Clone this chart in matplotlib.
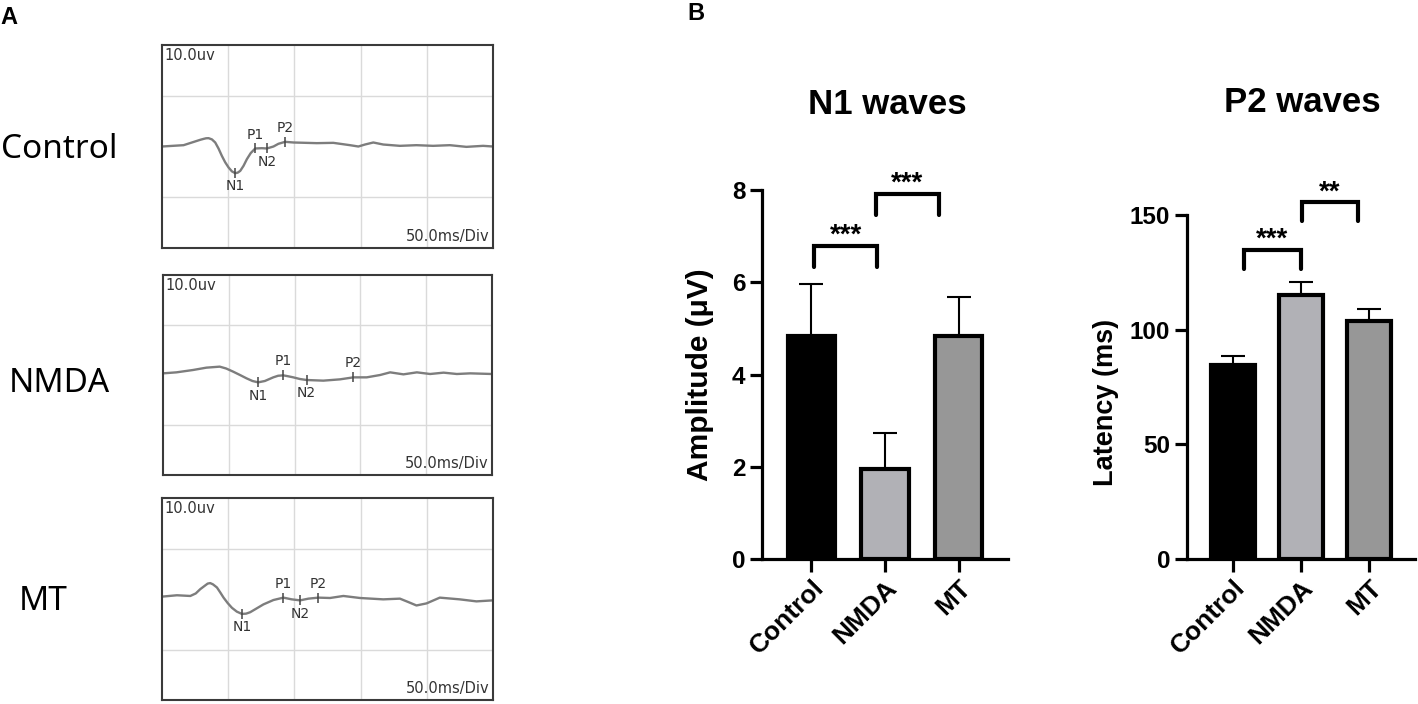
import numpy as np
import matplotlib
matplotlib.use('Agg')
import matplotlib.pyplot as plt

W, H = 1418, 704

groups = ['Control', 'NMDA', 'MT']
bar_colors = ['#000000', '#b1b1b6', '#979797']

# panel B values: mean and upper error
n1_amp = [4.84, 1.95, 4.83]
n1_err = [1.12, 0.78, 0.84]
p2_lat = [84.6, 115.1, 103.8]
p2_err = [3.9, 5.7, 5.2]

# significance brackets: x start, x end, bottom, top, label
n1_brackets = [(0.04, 0.89, 6.33, 6.79, '***'), (0.88, 1.73, 7.46, 7.92, '***')]
p2_brackets = [(0.16, 1.0, 126.5, 134.8, '***'), (1.01, 1.84, 147.4, 155.7, '**')]

# panel A traces, time (ms) and amplitude (uV)
ctrl_t = [0, 16.3, 28.9, 31.4, 33.3, 35.2, 37.7, 40.2, 42.7, 45.2, 47.7, 50.3, 52.8, 55.3,
          57.2, 59.1, 61.6, 64.1, 67.0, 70.4, 75.4, 79.2, 84.2,
          87.9, 93.0, 99.3, 116.9, 129.4, 142.0, 148.3, 153.3, 159.6, 167.1, 179.7, 192.2,
          204.8, 217.4, 229.9, 242.5, 250]
ctrl_v = [0, 0.26, 1.32, 1.5, 1.62, 1.64, 1.4, 0.79, -0.4, -1.84, -3.1, -4.14, -4.9, -5.26,
          -5.15, -4.80, -3.8, -2.50, -1.3, -0.39, -0.33, -0.39, 0,
          0.53, 0.92, 0.79, 0.66, 0.72, 0.26, 0, 0.39, 0.79, 0.39, 0.13, 0.26,
          0.13, 0.26, -0.07, 0.13, 0]
ctrl_peak_t = [55.3, 70.4, 79.2, 93.0]
ctrl_peak_v = [-5.26, -0.39, -0.39, 0.92]

nmda_t = [0, 10.2, 22.8, 33.0, 43.1, 48.0, 53.3, 58.5, 63.5, 68.0, 72.3, 77.4, 83.8, 87.5,
          91.4, 95.0, 99.0, 104.0, 109.1, 121.8,
          134.5, 144.7, 154.8, 165.0, 172.6, 182.7, 192.9, 203.0, 213.2, 223.3, 233.5, 250]
nmda_v = [0.33, 0.53, 1.0, 1.47, 1.67, 1.3, 0.67, 0.0, -0.67, -1.2, -1.47, -1.2, -0.47, -0.15,
          -0.07, -0.25, -0.47, -0.8, -1.0, -1.13,
          -0.87, -0.47, -0.47, 0, 0.53, 0.13, 0.53, 0.2, 0.47, 0.2, 0.33, 0.2]
nmda_peak_t = [72.3, 91.4, 109.1, 144.7]
nmda_peak_v = [-1.47, -0.07, -1.0, -0.47]

mt_t = [0, 11.3, 21.4, 25.5, 28.9, 32.7, 34.5, 36.4, 38.5, 41.5, 44.0, 46.5, 49.6, 52.8,
        56.5, 60.3, 63.5, 66.6, 76.6, 84.2, 91.7, 98.0,
        104.3, 110.6, 118.1, 126.9, 137.0, 149.5, 167.1, 179.7, 186.0, 192.2, 199.8, 209.8,
        224.9, 237.5, 250]
mt_v = [0.47, 0.74, 0.6, 1.1, 1.95, 2.7, 3.05, 3.15, 2.9, 2.28, 1.3, 0.27, -0.8, -1.74,
        -2.5, -2.95, -2.9, -2.62, -1.07, -0.2, 0.27, -0.07,
        -0.27, 0.07, 0.27, 0.2, 0.6, 0.2, -0.07, 0.07, -0.6, -1.28, -0.87, 0.27,
        -0.07, -0.47, -0.27]
mt_peak_t = [60.3, 91.7, 104.3, 118.1]
mt_peak_v = [-2.95, 0.27, -0.27, 0.27]

peak_names = ['N1', 'P1', 'N2', 'P2']

fig = plt.figure(figsize=(W / 100, H / 100), dpi=100)


def px_axes(l, t, r, b):
    return fig.add_axes([l / W, 1 - b / H, (r - l) / W, (b - t) / H])


def trace_panel(box, t, v, pk_t, pk_v):
    ax = px_axes(*box)
    ax.set_xlim(0, 250)
    ax.set_ylim(-20, 20)
    ax.set_xticks([50, 100, 150, 200])
    ax.set_yticks([-10, 10])
    ax.grid(color='#dadada', lw=1)
    ax.tick_params(length=0, labelbottom=False, labelleft=False)
    for s in ax.spines.values():
        s.set_color('#3a3a3a')
        s.set_linewidth(1.5)
    ax.plot(t, v, color='#7d7d7d', lw=1.7)
    ax.plot(pk_t, pk_v, ls='none', marker='|', ms=7, mew=1.1, color='#444444')
    for name, x, y in zip(peak_names, pk_t, pk_v):
        dy = -9.5 if name.startswith('N') else 10
        ax.annotate(name, (x, y), xytext=(0, dy), textcoords='offset points',
                    ha='center', va='center', fontsize=10, color='#333333',
                    family='DejaVu Sans')
    ax.text(0.008, 0.985, '10.0uv', transform=ax.transAxes, ha='left', va='top',
            fontsize=10.5, color='#333333', family='DejaVu Sans')
    ax.text(0.99, 0.02, '50.0ms/Div', transform=ax.transAxes, ha='right', va='bottom',
            fontsize=10.5, color='#333333', family='DejaVu Sans')


trace_panel((162, 45, 493, 248), ctrl_t, ctrl_v, ctrl_peak_t, ctrl_peak_v)
trace_panel((163, 275, 492, 475), nmda_t, nmda_v, nmda_peak_t, nmda_peak_v)
trace_panel((162, 498, 493, 700), mt_t, mt_v, mt_peak_t, mt_peak_v)

for name, (x, y) in zip(groups, [(59, 150), (59, 383), (43.5, 602)]):
    fig.text(x / W, 1 - y / H, name, ha='center', va='center', fontsize=24,
             family='Noto Sans')

fig.text(0 / W, 1 - 18 / H, 'A', ha='left', va='center', fontsize=17,
         fontweight='bold', family='Liberation Sans')
fig.text(687 / W, 1 - 14 / H, 'B', ha='left', va='center', fontsize=17,
         fontweight='bold', family='Liberation Sans')

bold = dict(family='Liberation Sans', fontweight='bold')


def bar_panel(box, vals, errs, ymax, yticks, ylabel, ylab_size, brackets, title, title_xy,
              ylab_xy):
    ax = px_axes(*box)
    x = np.arange(len(groups))
    ax.bar(x, vals, width=0.64, color=bar_colors, edgecolor='black', linewidth=3, zorder=3)
    ax.errorbar(x, vals, yerr=[np.zeros(len(errs)), errs], fmt='none', ecolor='black',
                elinewidth=1.5, capsize=8.5, capthick=1.5, zorder=2)
    ax.set_xlim(-0.67, 2.67)
    ax.set_ylim(0, ymax)
    ax.set_yticks(yticks)
    ax.set_xticks(x)
    ax.set_xticklabels(groups, rotation=45, ha='right', va='top', rotation_mode='anchor',
                       fontsize=19, **bold)
    ax.set_yticklabels([str(t) for t in yticks], fontsize=17.5, **bold)
    ax.spines['top'].set_visible(False)
    ax.spines['right'].set_visible(False)
    for s in ('left', 'bottom'):
        ax.spines[s].set_linewidth(2.3)
    ax.tick_params(width=2.3, length=9, pad=3)
    ax.set_ylabel(ylabel, fontsize=ylab_size, **bold)
    ax.yaxis.set_label_coords(*ylab_xy)
    for x1, x2, yb, yt, lab in brackets:
        ax.plot([x1, x1, x2, x2], [yb, yt, yt, yb], color='black', lw=3,
                solid_capstyle='round', solid_joinstyle='miter', clip_on=False)
        ax.annotate(lab, ((x1 + x2) / 2, yt), xytext=(0, 2), textcoords='offset points',
                    ha='center', va='baseline', fontsize=20, annotation_clip=False, **bold)
    fig.text(title_xy[0] / W, 1 - title_xy[1] / H, title, ha='center', va='center',
             fontsize=25, **bold)
    return ax


bar_panel((762, 190, 1008, 559), n1_amp, n1_err, 8, [0, 2, 4, 6, 8], 'Amplitude (μV)', 21.5,
          n1_brackets, 'N1 waves', (887, 105), (-0.195, 0.5))
bar_panel((1187, 215, 1415, 559), p2_lat, p2_err, 150, [0, 50, 100, 150], 'Latency (ms)', 19.5,
          p2_brackets, 'P2 waves', (1302, 102), (-0.30, 0.455))

fig.savefig('out.png', dpi=100)
